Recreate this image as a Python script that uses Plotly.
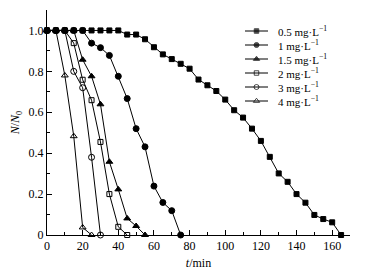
import plotly.graph_objects as go

labels = ["0.5 mg·L<sup>−1</sup>", "1 mg·L<sup>−1</sup>", "1.5 mg·L<sup>−1</sup>",
          "2 mg·L<sup>−1</sup>", "3 mg·L<sup>−1</sup>", "4 mg·L<sup>−1</sup>"]
symbols = ["square", "circle", "triangle-up", "square-open", "circle-open", "triangle-up-open"]
sizes = [5, 6, 6, 5, 6, 6]
leg_sizes = [4.5, 5, 5.5, 4.5, 5, 5.5]

t_05 = [0, 5, 10, 15, 20, 25, 30, 35, 40, 45, 50, 55, 60, 65, 70, 75, 80, 85, 90, 95,
        100, 105, 110, 115, 120, 125, 130, 135, 140, 145, 150, 155, 160, 165]
y_05 = [1, 1, 1, 1, 1, 1, 1, 1, 1, 0.98, 0.98, 0.957, 0.918, 0.883, 0.86, 0.837, 0.813,
        0.76, 0.732, 0.704, 0.662, 0.61, 0.574, 0.52, 0.46, 0.382, 0.301, 0.26, 0.2,
        0.158, 0.098, 0.078, 0.062, 0.0]
t_1 = [0, 5, 10, 15, 20, 25, 30, 35, 40, 45, 50, 55, 60, 65, 70, 75]
y_1 = [1, 1, 1, 1, 1, 0.938, 0.916, 0.878, 0.776, 0.667, 0.52, 0.431, 0.239, 0.159, 0.119, 0.0]
t_15 = [0, 5, 10, 15, 20, 25, 30, 35, 40, 45, 50, 55]
y_15 = [1, 1, 1, 1, 0.857, 0.776, 0.639, 0.358, 0.223, 0.081, 0.044, 0.0]
t_2 = [0, 5, 10, 15, 20, 25, 30, 35, 40, 45]
y_2 = [1, 1, 1, 0.938, 0.759, 0.659, 0.455, 0.2, 0.04, 0.0]
t_3 = [0, 5, 10, 15, 20, 25, 30]
y_3 = [1, 1, 1, 0.8, 0.72, 0.38, 0.0]
t_4 = [0, 5, 10, 15, 20, 25]
y_4 = [1, 1, 0.78, 0.483, 0.037, 0.0]

series = [(t_05, y_05), (t_1, y_1), (t_15, y_15), (t_2, y_2), (t_3, y_3), (t_4, y_4)]

font_family = "Liberation Serif, Times New Roman, serif"

fig = go.Figure()
for (t, y), name, sym, sz in zip(series, labels, symbols, sizes):
    fig.add_trace(go.Scatter(
        x=t, y=y, mode="lines+markers", name=name, showlegend=False,
        line=dict(color="black", width=1),
        marker=dict(symbol=sym, size=sz, color="black", line=dict(color="black", width=1)),
        cliponaxis=False,
    ))

# compact legend drawn on an invisible overlay axis measured in page pixels
leg_x0, leg_x1, leg_text_x = 245, 268, 276
leg_top, leg_step = 31, 14
for i, (name, sym, sz) in enumerate(zip(labels, symbols, leg_sizes)):
    yy = leg_top + i * leg_step
    fig.add_trace(go.Scatter(
        x=[leg_x0, (leg_x0 + leg_x1) / 2, leg_x1], y=[yy, yy, yy],
        mode="lines+markers", xaxis="x2", yaxis="y2", showlegend=False, hoverinfo="skip",
        line=dict(color="black", width=1),
        marker=dict(symbol=sym, size=[0, sz, 0], color="black", line=dict(color="black", width=1)),
        cliponaxis=False,
    ))
    fig.add_annotation(x=leg_text_x, y=yy, xref="x2", yref="y2", text=name,
                       showarrow=False, xanchor="left", yanchor="middle",
                       font=dict(size=11, family=font_family, color="black"))

# page body has an 8px margin, so the figure is 8px smaller and offset
fig.update_layout(
    width=357, height=268,
    margin=dict(l=39, r=15, t=2, b=41, autoexpand=False),
    paper_bgcolor="white", plot_bgcolor="white",
    font=dict(family=font_family, size=12, color="black"),
    showlegend=False,
    xaxis2=dict(domain=[0, 1], range=[47, 350], visible=False, anchor="y2", overlaying="x"),
    yaxis2=dict(domain=[0, 1], range=[235, 10], visible=False, anchor="x2", overlaying="y"),
    xaxis=dict(
        range=[0, 170], showline=True, linecolor="black", linewidth=1,
        ticks="inside", ticklen=5, tickcolor="black", dtick=20, tick0=0,
        minor=dict(ticks="inside", ticklen=3, dtick=10, tickcolor="black"),
        showgrid=False, zeroline=False, automargin=False,
        tickfont=dict(size=12),
        title=dict(text="<i>t</i>/min", standoff=6, font=dict(size=12)),
    ),
    yaxis=dict(
        range=[0, 1.1], showline=True, linecolor="black", linewidth=1,
        ticks="inside", ticklen=5, tickcolor="black", dtick=0.2, tick0=0,
        tickformat=".1f", labelalias={"0.0": "0"},
        minor=dict(ticks="inside", ticklen=3, dtick=0.1, tickcolor="black"),
        showgrid=False, zeroline=False, automargin=False,
        tickfont=dict(size=12),
        title=dict(text="<i>N</i>/<i>N</i><sub>0</sub>", standoff=6, font=dict(size=12)),
    ),
)

fig.write_html("out.html")
